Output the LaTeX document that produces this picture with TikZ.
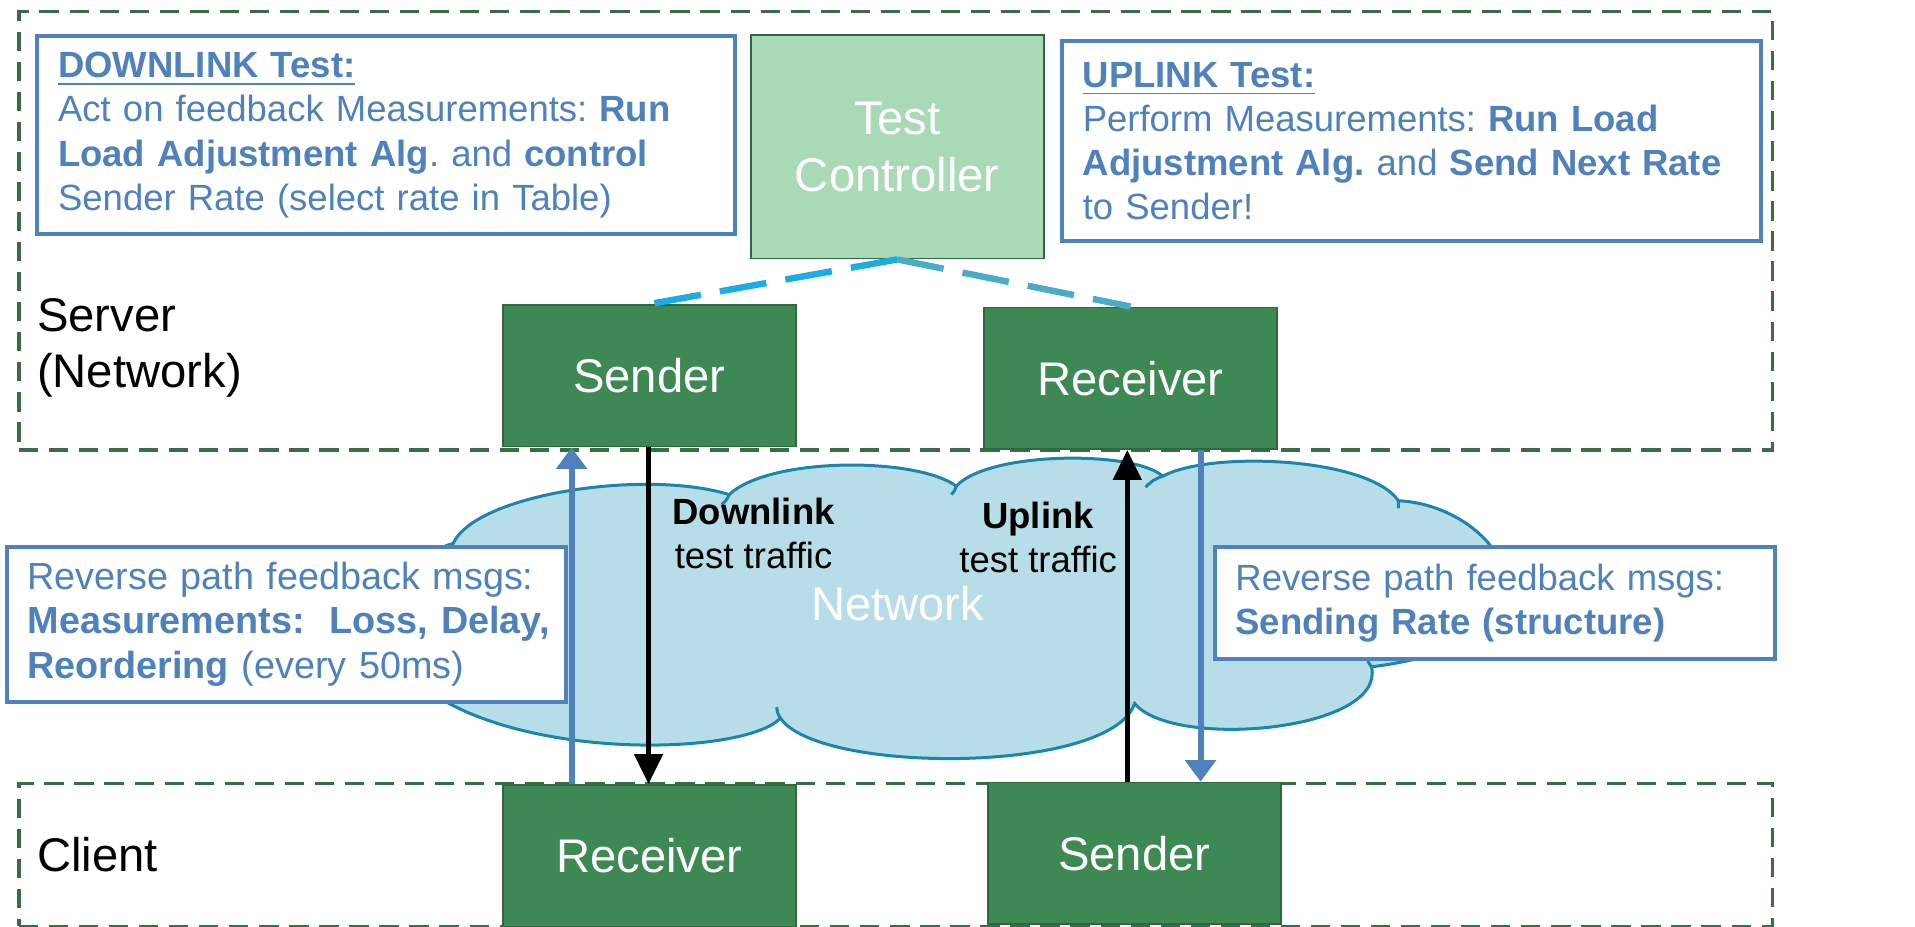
\documentclass[tikz,border=0pt]{standalone}
\usepackage{fontspec}
\setmainfont{Liberation Sans}
\usepackage{xcolor}
\usetikzlibrary{calc}
\usetikzlibrary{arrows.meta}
\frenchspacing

\definecolor{noteblue}{RGB}{79,129,189}
\definecolor{boxgreen}{RGB}{62,136,83}
\definecolor{boxedge}{RGB}{46,104,62}
\definecolor{ctrlgreen}{RGB}{169,217,183}
\definecolor{zonegreen}{RGB}{58,108,72}
\definecolor{cloudfill}{RGB}{183,221,232}
\definecolor{cloudedge}{RGB}{28,133,172}
\definecolor{linkleft}{RGB}{27,172,227}
\definecolor{linkright}{RGB}{75,172,198}

\newcommand{\bigtxt}{\fontsize{11}{13.2}\selectfont}
\newcommand{\smalltxt}{\fontsize{8.5}{10.3}\selectfont}

\begin{document}
\begin{tikzpicture}

		\tikzstyle{zone}     = [draw=zonegreen, line width=0.8pt, dash pattern=on 4.5pt off 2.5pt, inner sep=0pt, anchor=north west, minimum width=14.36cm]
		\tikzstyle{block}    = [draw=boxedge, fill=boxgreen, text=white, font=\bigtxt, minimum width=2.4cm, minimum height=1.16cm, inner sep=0pt, anchor=north west]
		\tikzstyle{ctrlbox}  = [draw=boxedge, fill=ctrlgreen, text=white, font=\bigtxt, align=center, minimum width=2.4cm, minimum height=1.83cm, inner sep=0pt, anchor=north west]
		\tikzstyle{note}     = [draw=noteblue, line width=0.9pt, fill=white, text=noteblue, font=\smalltxt, align=left, inner xsep=0.17cm, inner ysep=0pt, anchor=north west]
		\tikzstyle{ctrllink} = [line width=1.5pt, dash pattern=on 11pt off 4.5pt]
		\tikzstyle{traffic}  = [black, line width=1.2pt, -{Triangle[length=7pt,width=6.5pt]}]
		\tikzstyle{feedback} = [noteblue, line width=1.4pt, -{Triangle[length=5pt,width=7pt]}]

		\useasboundingbox (0,0) rectangle (15.68,7.59);

		\node [zone, minimum height=3.59cm](server) at (0.14,7.51) {};
		\node [zone, minimum height=1.17cm](client) at (0.14,1.19) {};

		\filldraw [fill=cloudfill, draw=cloudedge, line width=0.7pt]
			(3.71,3.14) .. controls (3.9,3.55) and (5.3,3.75) .. (5.97,3.54)
			.. controls (6.3,3.85) and (7.5,3.85) .. (7.83,3.61)
			.. controls (8.1,3.9) and (9.3,3.9) .. (9.52,3.69)
			.. controls (9.9,3.9) and (11.2,3.85) .. (11.45,3.49)
			.. controls (12.3,3.45) and (13.0,2.35) .. (11.23,2.13)
			.. controls (11.35,1.6) and (9.6,1.45) .. (9.29,1.83)
			.. controls (9.1,1.25) and (6.7,1.25) .. (6.39,1.71)
			.. controls (6.1,1.4) and (4.2,1.35) .. (3.42,2.0)
			.. controls (3.0,2.3) and (3.2,3.0) .. (3.71,3.14) -- cycle;
		\draw [cloudedge, line width=0.7pt]
			(5.97,3.54) to[bend left=15] (5.91,3.46)
			(7.83,3.61) to[bend left=15] (7.79,3.54)
			(9.52,3.69) to[bend right=15] (9.38,3.60)
			(11.45,3.49) -- (11.45,3.43)
			(11.23,2.13) to[bend left=15] (11.19,2.22)
			(6.39,1.71) to[bend left=15] (6.36,1.80);

		\node [anchor=west, font=\bigtxt, align=left](srvlabel) at (0.18,4.74) {Server\\(Network)};
		\node [anchor=west, font=\bigtxt](clilabel) at (0.18,0.59) {Client};

		\node [note, text width=5.37cm, minimum height=1.62cm](dlnote) at (0.29,7.31)
			{\textbf{\underline{DOWNLINK Test:}}\\\mbox{Act on feedback Measurements: \textbf{Run}}\\\mbox{\textbf{Load Adjustment Alg}. and \textbf{control}}\\\mbox{Sender Rate (select rate in Table)}};
		\node [note, text width=5.38cm, minimum height=1.64cm](ulnote) at (8.68,7.27)
			{\textbf{\underline{UPLINK Test:}}\\\mbox{Perform Measurements: \textbf{Run Load}}\\\mbox{\textbf{Adjustment Alg.} and \textbf{Send Next Rate}}\\to Sender!};
		\node [ctrlbox](ctrl) at (6.14,7.31) {Test\\Controller};

		\node [block](srvsend) at (4.11,5.10) {Sender};
		\node [block](srvrecv) at (8.05,5.08) {Receiver};
		\node [block](clirecv) at (4.11,1.17) {Receiver};
		\node [block](clisend) at (8.08,1.19) {Sender};

		\draw [ctrllink, linkleft] (ctrl.south) -- (srvsend.north);
		\draw [ctrllink, linkright] (ctrl.south) -- (srvrecv.north);

		\node [font=\smalltxt, align=center](dltxt) at (6.17,3.22) {\textbf{Downlink}\\test traffic};
		\node [font=\smalltxt, align=center](ultxt) at (8.50,3.19) {\textbf{Uplink}\\test traffic};
		\node [text=white, font=\bigtxt](net) at (7.35,2.65) {Network};

		\node [note, font=\fontsize{8.8}{10.3}\selectfont, text width=4.24cm, minimum height=1.27cm](fbleft) at (0.04,3.13)
			{Reverse path feedback msgs:\\\mbox{\textbf{Measurements:\ \ Loss, Delay,}}\\\mbox{\textbf{Reordering} (every 50ms)}};
		\node [note, text width=4.25cm, minimum height=0.92cm](fbright) at (9.93,3.13)
			{Reverse path feedback msgs:\\\mbox{\textbf{Sending Rate (structure)}}};

		\coordinate (fbl) at (4.68,0);
		\coordinate (dl) at (5.31,0);
		\coordinate (ul) at (9.23,0);
		\coordinate (fbr) at (9.83,0);
		\draw [traffic] (srvsend.south -| dl) -- (clirecv.north -| dl);
		\draw [traffic] (clisend.north -| ul) -- (srvrecv.south -| ul);
		\draw [feedback] (clirecv.north -| fbl) -- (srvsend.south -| fbl);
		\draw [feedback] (srvrecv.south -| fbr) -- (clisend.north -| fbr);

	\end{tikzpicture}
\end{document}
